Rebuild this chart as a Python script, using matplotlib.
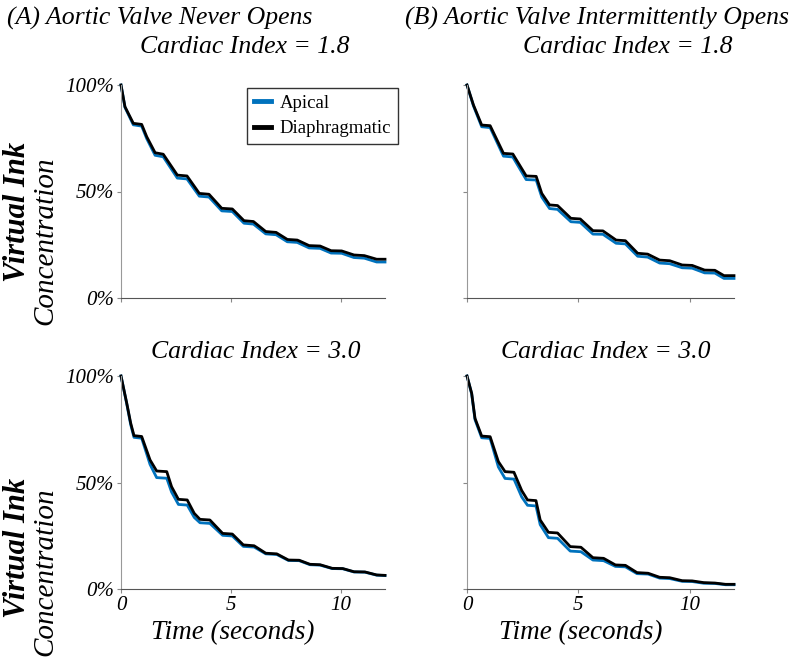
import matplotlib
matplotlib.use("Agg")
import matplotlib.pyplot as plt

# values (percent of initial ink)
t_a18 = [0, 0.18, 0.56, 0.94, 1.17, 1.55, 1.92, 2.56, 3.0, 3.56, 4.0, 4.58, 5.06, 5.59, 6.02,
         6.58, 7.05, 7.56, 8.01, 8.55, 9.05, 9.55, 10.03, 10.59, 11.06, 11.62, 12.0]
diaph_a18 = [100, 89.8, 82.0, 81.5, 75.7, 68.2, 67.5, 57.7, 57.3, 49.1, 48.7, 42.1, 41.8, 36.3, 35.9,
             31.2, 30.8, 27.5, 27.2, 24.6, 24.4, 22.2, 22.1, 20.2, 19.9, 18.2, 18.2]
apical_a18 = [100, 89.5, 81.3, 80.7, 74.8, 67.0, 66.3, 56.3, 55.9, 47.8, 47.4, 40.9, 40.6, 35.1, 34.7,
              30.1, 29.7, 26.4, 26.1, 23.5, 23.3, 21.1, 21.0, 19.0, 18.7, 16.9, 16.9]

t_b18 = [0, 0.29, 0.66, 1.04, 1.64, 2.06, 2.66, 3.11, 3.36, 3.71, 4.07, 4.67, 5.09, 5.66, 6.11,
         6.70, 7.12, 7.67, 8.12, 8.66, 9.11, 9.67, 10.12, 10.68, 11.14, 11.55, 12.0]
diaph_b18 = [100, 90.6, 81.2, 80.9, 67.9, 67.6, 57.3, 57.1, 49.1, 43.7, 43.4, 37.4, 37.1, 31.6, 31.5,
             27.2, 26.9, 21.0, 20.6, 17.8, 17.5, 15.5, 15.3, 13.1, 13.0, 10.5, 10.5]
apical_b18 = [100, 90.2, 80.4, 80.0, 66.6, 66.2, 55.6, 55.4, 47.4, 42.0, 41.6, 35.8, 35.5, 30.0, 29.9,
              25.7, 25.4, 19.6, 19.2, 16.4, 16.1, 14.2, 14.0, 11.8, 11.7, 9.2, 9.2]

t_a30 = [0, 0.26, 0.44, 0.59, 0.94, 1.32, 1.62, 2.08, 2.30, 2.61, 3.01, 3.33, 3.59, 4.04, 4.62, 5.06,
         5.56, 6.05, 6.58, 7.08, 7.61, 8.1, 8.59, 9.05, 9.6, 10.08, 10.59, 11.09, 11.62, 12.0]
diaph_a30 = [100, 87.3, 77.9, 72.0, 71.6, 60.6, 55.4, 55.1, 48.0, 42.1, 41.8, 35.5, 32.7, 32.4, 26.1, 25.8,
             20.7, 20.3, 16.8, 16.5, 13.6, 13.5, 11.6, 11.4, 9.7, 9.6, 8.1, 8.0, 6.6, 6.4]
apical_a30 = [100, 87.0, 77.2, 71.2, 70.8, 58.5, 52.3, 52.0, 45.5, 39.7, 39.4, 33.6, 31.1, 30.8, 25.2, 24.9,
              20.0, 19.7, 16.5, 16.2, 13.4, 13.3, 11.4, 11.2, 9.6, 9.5, 8.0, 7.9, 6.5, 6.3]

t_b30 = [0, 0.21, 0.36, 0.66, 1.04, 1.41, 1.71, 2.11, 2.46, 2.72, 3.1, 3.29, 3.66, 4.07, 4.64, 5.12,
         5.66, 6.14, 6.67, 7.12, 7.64, 8.14, 8.66, 9.11, 9.67, 10.12, 10.64, 11.14, 11.62, 12.0]
diaph_b30 = [100, 91.9, 80.1, 71.8, 71.5, 59.8, 55.1, 54.8, 46.2, 41.8, 41.5, 32.4, 26.6, 26.3, 19.9, 19.6,
             14.7, 14.4, 11.3, 11.1, 7.7, 7.4, 5.5, 5.3, 3.9, 3.8, 3.0, 2.8, 2.2, 2.2]
apical_b30 = [100, 91.6, 79.5, 71.0, 70.7, 57.3, 51.9, 51.6, 43.2, 39.3, 39.0, 30.2, 24.1, 23.8, 17.8, 17.5,
              13.6, 13.3, 10.6, 10.4, 7.2, 7.0, 5.1, 4.9, 3.6, 3.5, 2.7, 2.6, 2.0, 2.0]

panels = [
    (t_a18, apical_a18, diaph_a18),
    (t_b18, apical_b18, diaph_b18),
    (t_a30, apical_a30, diaph_a30),
    (t_b30, apical_b30, diaph_b30),
]

SERIF = ["Liberation Serif", "DejaVu Serif"]
BLUE = "#0072BD"

fig = plt.figure(figsize=(8, 6.67), dpi=100)

W, H = 800, 667
boxes = [(121, 85, 385, 298), (467, 85, 734, 298),
         (121, 376, 385, 589), (467, 376, 734, 589)]

axes = []
for i, (x0, y0, x1, y1) in enumerate(boxes):
    ax = fig.add_axes([x0 / W, 1 - y1 / H, (x1 - x0) / W, (y1 - y0) / H])
    t, ap, di = panels[i]
    la, = ax.plot(t, ap, color=BLUE, lw=2.0, label="Apical", clip_on=False,
                  solid_joinstyle="round")
    ld, = ax.plot(t, di, color="black", lw=2.0, label="Diaphragmatic", clip_on=False,
                  solid_joinstyle="round")
    ax.set_xlim(0, 12)
    ax.set_ylim(0, 100)
    ax.set_xticks([0, 5, 10])
    ax.set_yticks([0, 50, 100])
    ax.set_yticklabels(["0%", "50%", "100%"])
    for s in ["top", "right"]:
        ax.spines[s].set_visible(False)
    ax.spines["left"].set_color("#999999")
    ax.spines["bottom"].set_color("#555555")
    ax.tick_params(direction="out", length=3, width=0.8, colors="#888888", pad=2)
    for lab in ax.get_xticklabels() + ax.get_yticklabels():
        lab.set_family(SERIF)
        lab.set_style("italic")
        lab.set_fontsize(15)
        lab.set_color("black")
    if i % 2 == 1:
        ax.set_yticklabels([])
    if i < 2:
        ax.set_xticklabels([])
    axes.append(ax)

leg = axes[0].legend(handles=[la, ld], loc="upper right",
                     bbox_to_anchor=(398 / W, 1 - 88 / H), bbox_transform=fig.transFigure,
                     prop={"family": SERIF, "size": 13.5}, frameon=True, fancybox=False,
                     handlelength=0.9, handletextpad=0.5, borderpad=0.35, labelspacing=0.45,
                     borderaxespad=0)
leg.get_frame().set_edgecolor("black")
leg.get_frame().set_linewidth(1.0)
for h in leg.get_lines():
    h.set_linewidth(3.5)

tkw = dict(family=SERIF, style="italic", ha="center", va="center")
fig.text(160 / W, 1 - 18 / H, "(A) Aortic Valve Never Opens", fontsize=18.5, **tkw)
fig.text(597 / W, 1 - 18 / H, "(B) Aortic Valve Intermittently Opens", fontsize=18.5, **tkw)
fig.text(245 / W, 1 - 47 / H, "Cardiac Index = 1.8", fontsize=18.5, **tkw)
fig.text(628 / W, 1 - 47 / H, "Cardiac Index = 1.8", fontsize=18.5, **tkw)
fig.text(256 / W, 1 - 352 / H, "Cardiac Index = 3.0", fontsize=18.5, **tkw)
fig.text(606 / W, 1 - 352 / H, "Cardiac Index = 3.0", fontsize=18.5, **tkw)
fig.text(233 / W, 1 - 633 / H, "Time (seconds)", fontsize=19.5, **tkw)
fig.text(581 / W, 1 - 633 / H, "Time (seconds)", fontsize=19.5, **tkw)

for yv, yc in [(212, 241), (548, 572)]:
    fig.text(18 / W, 1 - yv / H, "Virtual Ink", fontsize=22, weight="bold", rotation=90, **tkw)
    fig.text(45 / W, 1 - yc / H, "Concentration", fontsize=21, rotation=90, **tkw)

fig.savefig("out.png", dpi=100)
